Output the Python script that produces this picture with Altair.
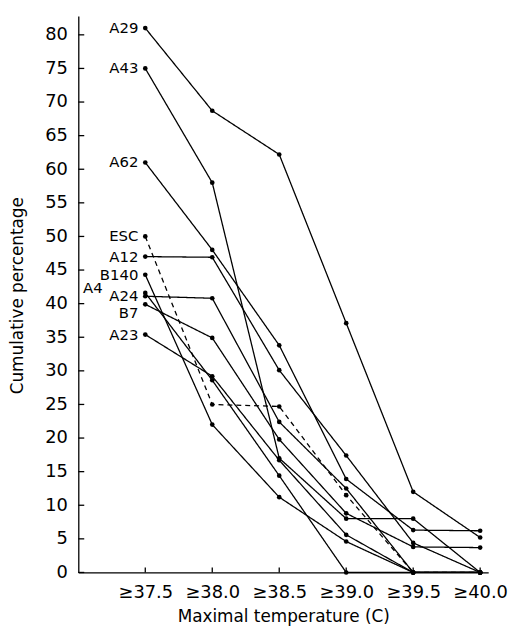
import altair as alt
import pandas as pd

# ---- data ----
temps = [37.5, 38.0, 38.5, 39.0, 39.5, 40.0]
series_names = ["A29", "A43", "A62", "ESC", "A12", "B140", "A4", "A24", "B7", "A23"]
A29 = [81.0, 68.7, 62.2, 37.1, 12.0, 5.2]
A43 = [75.0, 58.0, 17.0, 8.0, 8.0, 0.0]
A62 = [61.0, 48.0, 33.8, 13.9, 6.3, 6.2]
ESC = [50.0, 25.0, 24.7, 11.5, 0.0, 0.0]
A12 = [47.0, 46.9, 30.1, 17.4, 4.4, 0.0]
B140 = [44.3, 22.0, 11.2, 4.6, 0.0, 0.0]
A4 = [41.6, 28.6, 14.4, 0.0, 0.0, 0.0]
A24 = [41.1, 40.8, 22.4, 12.5, 0.0, 0.0]
B7 = [39.9, 34.9, 19.8, 8.8, 3.8, 3.7]
A23 = [35.4, 29.2, 16.7, 5.6, 0.0, 0.0]
dashed_series = ["ESC"]
y_ticks = [0, 5, 10, 15, 20, 25, 30, 35, 40, 45, 50, 55, 60, 65, 70, 75, 80]

values = {"A29": A29, "A43": A43, "A62": A62, "ESC": ESC, "A12": A12,
          "B140": B140, "A4": A4, "A24": A24, "B7": B7, "A23": A23}

rows = []
for s in series_names:
    for t, v in zip(temps, values[s]):
        rows.append({"series": s, "temp": t, "pct": v,
                     "style": "dashed" if s in dashed_series else "solid"})
df = pd.DataFrame(rows)
first = df[df["temp"] == temps[0]]

FONT = "DejaVu Sans"
W, H = 414, 562
xscale = alt.Scale(domain=[37.0, 40.06], nice=False, zero=False)
yscale = alt.Scale(domain=[0, 82.8], nice=False)

x_axis = alt.Axis(values=temps, labelExpr="'≥' + format(datum.value, '.1f')",
                  tickSize=0, labelPadding=11, labelFontSize=18, labelFont=FONT,
                  labelColor="black", domainColor="black", domainWidth=1.3,
                  labelOverlap=False, grid=False,
                  title="Maximal temperature (C)", titleFont=FONT,
                  titleFontSize=17, titleFontWeight="normal", titleColor="black",
                  titleX=207, titleY=50, titleBaseline="alphabetic")
y_axis = alt.Axis(values=y_ticks, tickSize=0, labelPadding=11, labelFontSize=18,
                  labelFont=FONT, labelColor="black", domainColor="black",
                  domainWidth=1.3, labelOverlap=False, grid=False,
                  title="Cumulative percentage",
                  titleFont=FONT, titleFontSize=17, titleFontWeight="normal",
                  titleColor="black", titleAngle=270, titleX=-61, titleY=282,
                  titleBaseline="middle", titleAlign="center")

X = lambda f: alt.X(f, scale=xscale, axis=x_axis)
Y = lambda f: alt.Y(f, scale=yscale, axis=y_axis)

base = alt.Chart(df)

lines = base.mark_line(color="black", strokeWidth=1.3).encode(
    x=X("temp:Q"), y=Y("pct:Q"),
    detail="series:N",
    strokeDash=alt.StrokeDash("style:N", scale=alt.Scale(domain=["solid", "dashed"],
                              range=[[1, 0], [5, 4]]), legend=None),
)

points = base.mark_circle(color="black", size=22, opacity=1).encode(
    x=X("temp:Q"), y=Y("pct:Q"))

lab_common = dict(align="right", baseline="middle", font=FONT, fontSize=15, color="black")
labels_main = alt.Chart(first[~first["series"].isin(["A4", "B7"])]).mark_text(
    dx=-7, **lab_common).encode(x=X("temp:Q"), y=Y("pct:Q"), text="series:N")
label_a4 = alt.Chart(first[first["series"] == "A4"]).mark_text(
    dx=-43, dy=-5, **lab_common).encode(x=X("temp:Q"), y=Y("pct:Q"), text="series:N")
label_b7 = alt.Chart(first[first["series"] == "B7"]).mark_text(
    dx=-7, dy=9, **lab_common).encode(x=X("temp:Q"), y=Y("pct:Q"), text="series:N")

# inward tick marks
ytick_df = pd.DataFrame({"v": y_ticks})
xtick_df = pd.DataFrame({"t": temps})
yticks = alt.Chart(ytick_df).mark_rule(color="black", strokeWidth=1.3).encode(
    y=Y("v:Q"), x=alt.value(0), x2=alt.value(6))
xticks = alt.Chart(xtick_df).mark_rule(color="black", strokeWidth=1.3).encode(
    x=X("t:Q"), y=alt.value(H), y2=alt.value(H - 5))

chart = alt.layer(lines, yticks, xticks, points, labels_main, label_a4, label_b7).properties(
    width=W, height=H,
    padding={"left": 1, "top": 5, "right": 0, "bottom": 0},
    background="white",
).configure_view(stroke=None)

chart.save("out.html", embed_options={"renderer": "svg", "actions": False})
